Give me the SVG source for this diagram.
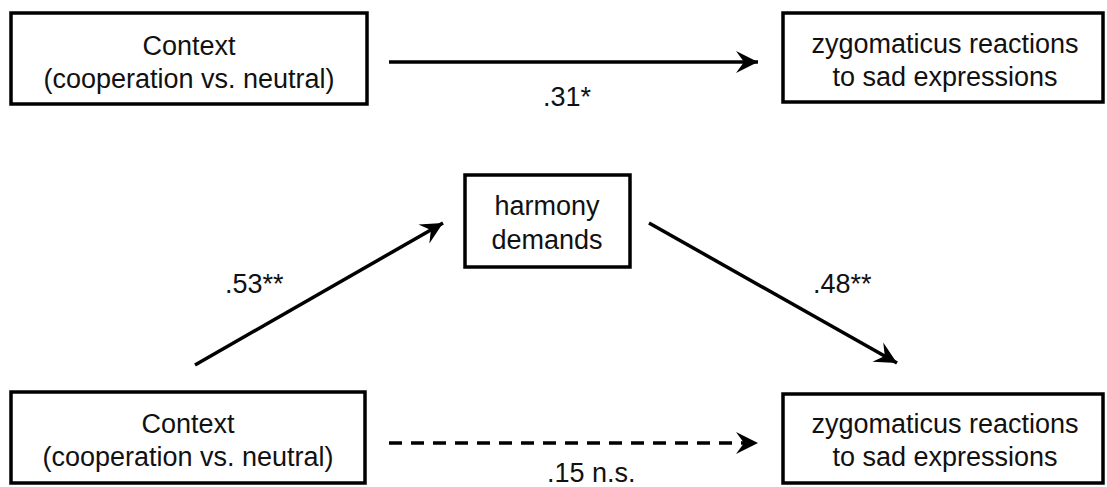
<svg xmlns="http://www.w3.org/2000/svg" width="1107" height="487" viewBox="0 0 1107 487">
  <style>
    .box { fill: #ffffff; stroke: #000000; stroke-width: 3.5; }
    .t { font-family: "Liberation Sans", Arial, sans-serif; font-size: 27px; fill: #111111; text-anchor: middle; }
    .lbl { font-family: "Liberation Sans", Arial, sans-serif; font-size: 27px; fill: #111111; text-anchor: start; }
    .conn { fill: none; stroke: #000000; stroke-width: 3.5; }
    .dash { stroke-dasharray: 13 9; }
  </style>
  <defs>
    <marker id="arrow" markerUnits="userSpaceOnUse" markerWidth="26" markerHeight="26" viewBox="-24 -13 26 26" refX="0" refY="0" orient="auto">
      <path d="M0,0 L-22,-11 L-14,0 L-22,11 Z" fill="#000000" stroke="none"/>
    </marker>
  </defs>
  <rect width="1107" height="487" fill="#ffffff"/>

  <g id="context-top">
    <rect class="box" x="11" y="13" width="356" height="91"/>
    <text class="t" x="189" y="55">Context</text>
    <text class="t" x="189" y="88">(cooperation vs. neutral)</text>
  </g>

  <g id="zygomaticus-top">
    <rect class="box" x="783" y="13" width="320" height="89"/>
    <text class="t" x="945" y="53">zygomaticus reactions</text>
    <text class="t" x="945" y="86">to sad expressions</text>
  </g>

  <g id="harmony">
    <rect class="box" x="465" y="175" width="165" height="92"/>
    <text class="t" x="547" y="215">harmony</text>
    <text class="t" x="547" y="249">demands</text>
  </g>

  <g id="context-bottom">
    <rect class="box" x="11" y="392" width="354" height="91"/>
    <text class="t" x="188" y="433">Context</text>
    <text class="t" x="188" y="466">(cooperation vs. neutral)</text>
  </g>

  <g id="zygomaticus-bottom">
    <rect class="box" x="783" y="394" width="320" height="89"/>
    <text class="t" x="945" y="433">zygomaticus reactions</text>
    <text class="t" x="945" y="466">to sad expressions</text>
  </g>

  <g id="connectors">
    <line class="conn" x1="389" y1="62" x2="758" y2="62" marker-end="url(#arrow)"/>
    <line class="conn" x1="195" y1="365" x2="443" y2="223" marker-end="url(#arrow)"/>
    <line class="conn" x1="649" y1="223" x2="897" y2="363" marker-end="url(#arrow)"/>
    <line class="conn dash" x1="389" y1="443" x2="758" y2="443" marker-end="url(#arrow)"/>
    <text class="lbl" x="543" y="106">.31*</text>
    <text class="lbl" x="225" y="293">.53**</text>
    <text class="lbl" x="813" y="293">.48**</text>
    <text class="lbl" x="547" y="482">.15 n.s.</text>
  </g>
</svg>
